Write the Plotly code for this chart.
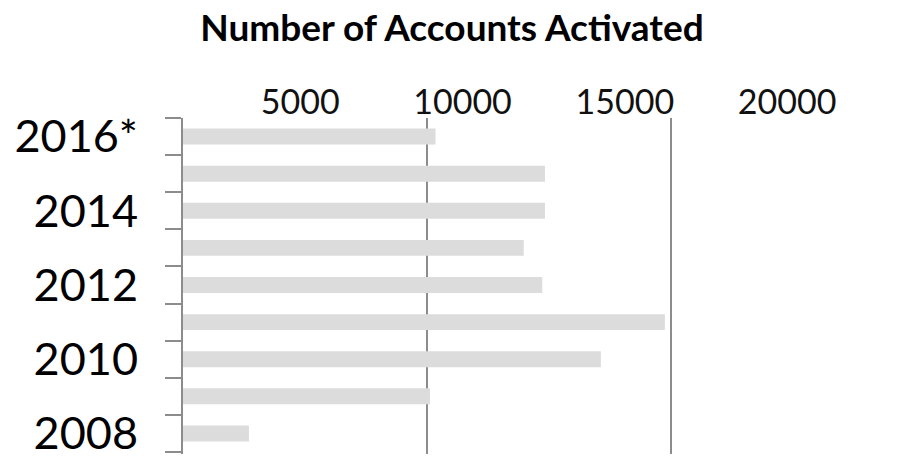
"""Number of Accounts Activated - horizontal bar chart"""
import plotly.graph_objects as go

# データ
years = ["2008", "2009", "2010", "2011", "2012", "2013", "2014", "2015", "2016*"]
accounts = [2700, 10110, 17110, 19730, 14710, 13950, 14820, 14820, 10340]
year_labels = ["2008", "", "2010", "", "2012", "", "2014", "", "2016*"]
grid_values = [10000, 20000]
top_tick_values = [5000, 10000, 15000, 20000]
top_tick_labels = ["5000", "10000", "15000", "20000"]

GREY = "#8c8c8c"
FONT = "Lato, 'Open Sans', sans-serif"

fig = go.Figure()

# 棒グラフ
fig.add_trace(
    go.Bar(
        x=accounts,
        y=years,
        orientation="h",
        marker=dict(color="#dcdcdc", line=dict(width=0)),
        width=0.43,
        hoverinfo="x+y",
        showlegend=False,
    )
)

# 上側の目盛り用（見えないトレース）
fig.add_trace(
    go.Scatter(
        x=top_tick_values,
        y=[years[0]] * len(top_tick_values),
        xaxis="x2",
        mode="markers",
        marker=dict(opacity=0),
        hoverinfo="skip",
        showlegend=False,
    )
)

# ページ本体の余白(8px)を考慮したマージン
fig.update_layout(
    width=905,
    height=456,
    margin=dict(l=175, r=95, t=110, b=10),
    paper_bgcolor="white",
    plot_bgcolor="white",
    font=dict(family=FONT, color="#111111"),
    title=dict(
        text="<b>Number of Accounts Activated</b>",
        x=0.4906,
        xanchor="center",
        y=0.955,
        yanchor="middle",
        font=dict(size=37, family=FONT, color="#000000"),
    ),
    xaxis=dict(
        range=[0, 26000],
        tickvals=grid_values,
        showticklabels=False,
        showgrid=True,
        gridcolor=GREY,
        gridwidth=2,
        zeroline=False,
        showline=False,
        ticks="",
        automargin=False,
    ),
    xaxis2=dict(
        overlaying="x",
        side="top",
        anchor="y",
        range=[1390, 20950],
        tickvals=top_tick_values,
        ticktext=top_tick_labels,
        showgrid=False,
        zeroline=False,
        showline=False,
        ticks="",
        ticklabelstandoff=-4,
        automargin=False,
        tickfont=dict(size=34, family=FONT, color="#111111"),
    ),
    yaxis=dict(
        type="category",
        categoryorder="array",
        categoryarray=years,
        tickvals=years,
        ticktext=year_labels,
        tickson="boundaries",
        ticks="outside",
        ticklen=16,
        tickwidth=2,
        tickcolor=GREY,
        showline=True,
        linecolor=GREY,
        linewidth=2,
        showgrid=False,
        zeroline=False,
        ticklabelstandoff=34,
        automargin=False,
        tickfont=dict(size=45, family=FONT, color="#000000"),
    ),
)

fig.write_html("out.html")
